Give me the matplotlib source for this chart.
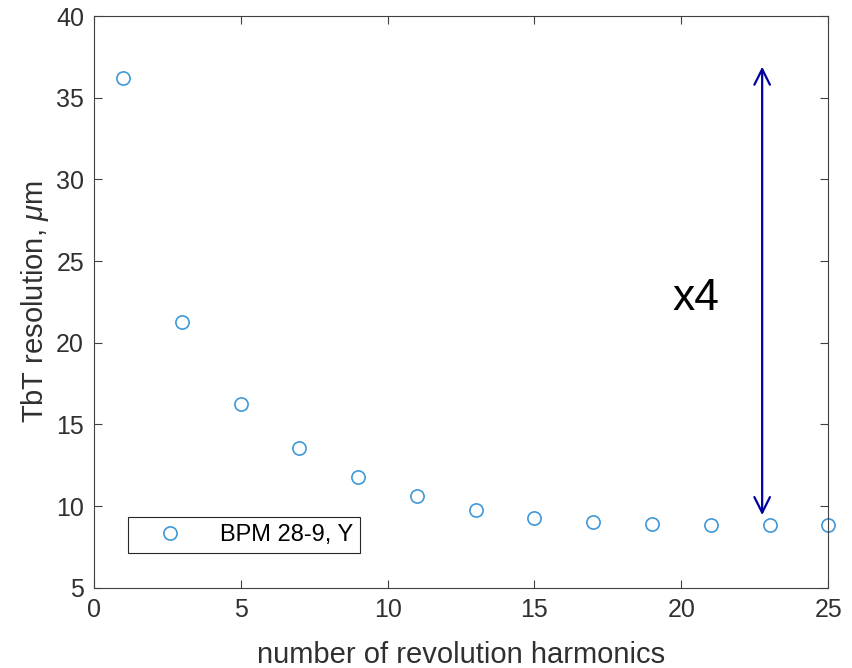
import numpy as np
import matplotlib.pyplot as plt

plt.rcParams['font.family'] = ['Liberation Sans', 'DejaVu Sans']
plt.rcParams['mathtext.fontset'] = 'custom'
plt.rcParams['mathtext.it'] = 'Liberation Sans:italic'
plt.rcParams['mathtext.rm'] = 'Liberation Sans'

# data
harmonics = [1, 3, 5, 7, 9, 11, 13, 15, 17, 19, 21, 23, 25]
resolution = [36.2, 21.3, 16.25, 13.55, 11.8, 10.6, 9.75, 9.3, 9.05, 8.9, 8.85, 8.85, 8.85]
arrow_x = 22.75
arrow_y = (9.45, 36.9)

fig = plt.figure(figsize=(8.53, 6.68), dpi=100)
ax = fig.add_axes([0.110, 0.120, 0.861, 0.856])

ax.plot(harmonics, resolution, 'o', mfc='none', mec='#3F98D8',
        ms=9.5, mew=1.2, label='BPM 28-9, Y', clip_on=False)

ax.annotate('', xy=(arrow_x, arrow_y[1]), xytext=(arrow_x, arrow_y[0]),
            arrowprops=dict(arrowstyle='<->', color='#0000A0', lw=1.6,
                            mutation_scale=28, shrinkA=0, shrinkB=0))
ax.text(20.5, 22.7, 'x4', fontsize=32, ha='center', va='center')

ax.set_xlim(0, 25)
ax.set_ylim(5, 40)
ax.set_xticks(np.arange(0, 26, 5))
ax.set_yticks(np.arange(5, 41, 5))
ax.tick_params(direction='in', top=True, right=True, labelsize=18,
               colors='#404040', labelcolor='#303030', length=6, width=0.8, pad=7)
for s in ax.spines.values():
    s.set_color('#404040')
    s.set_linewidth(0.8)

ax.set_xlabel('number of revolution harmonics', fontsize=21, color='#303030', labelpad=14)
ax.set_ylabel(r'TbT resolution, $\mu$m', fontsize=21, color='#303030', labelpad=4)

leg = ax.legend(loc='lower left', bbox_to_anchor=(0.046, 0.061), fontsize=17,
                fancybox=False, edgecolor='#262626', framealpha=1,
                borderpad=0.3, handletextpad=0.6, handlelength=3.0, borderaxespad=0)
leg.get_frame().set_linewidth(0.8)

fig.savefig('out.png', dpi=100)
